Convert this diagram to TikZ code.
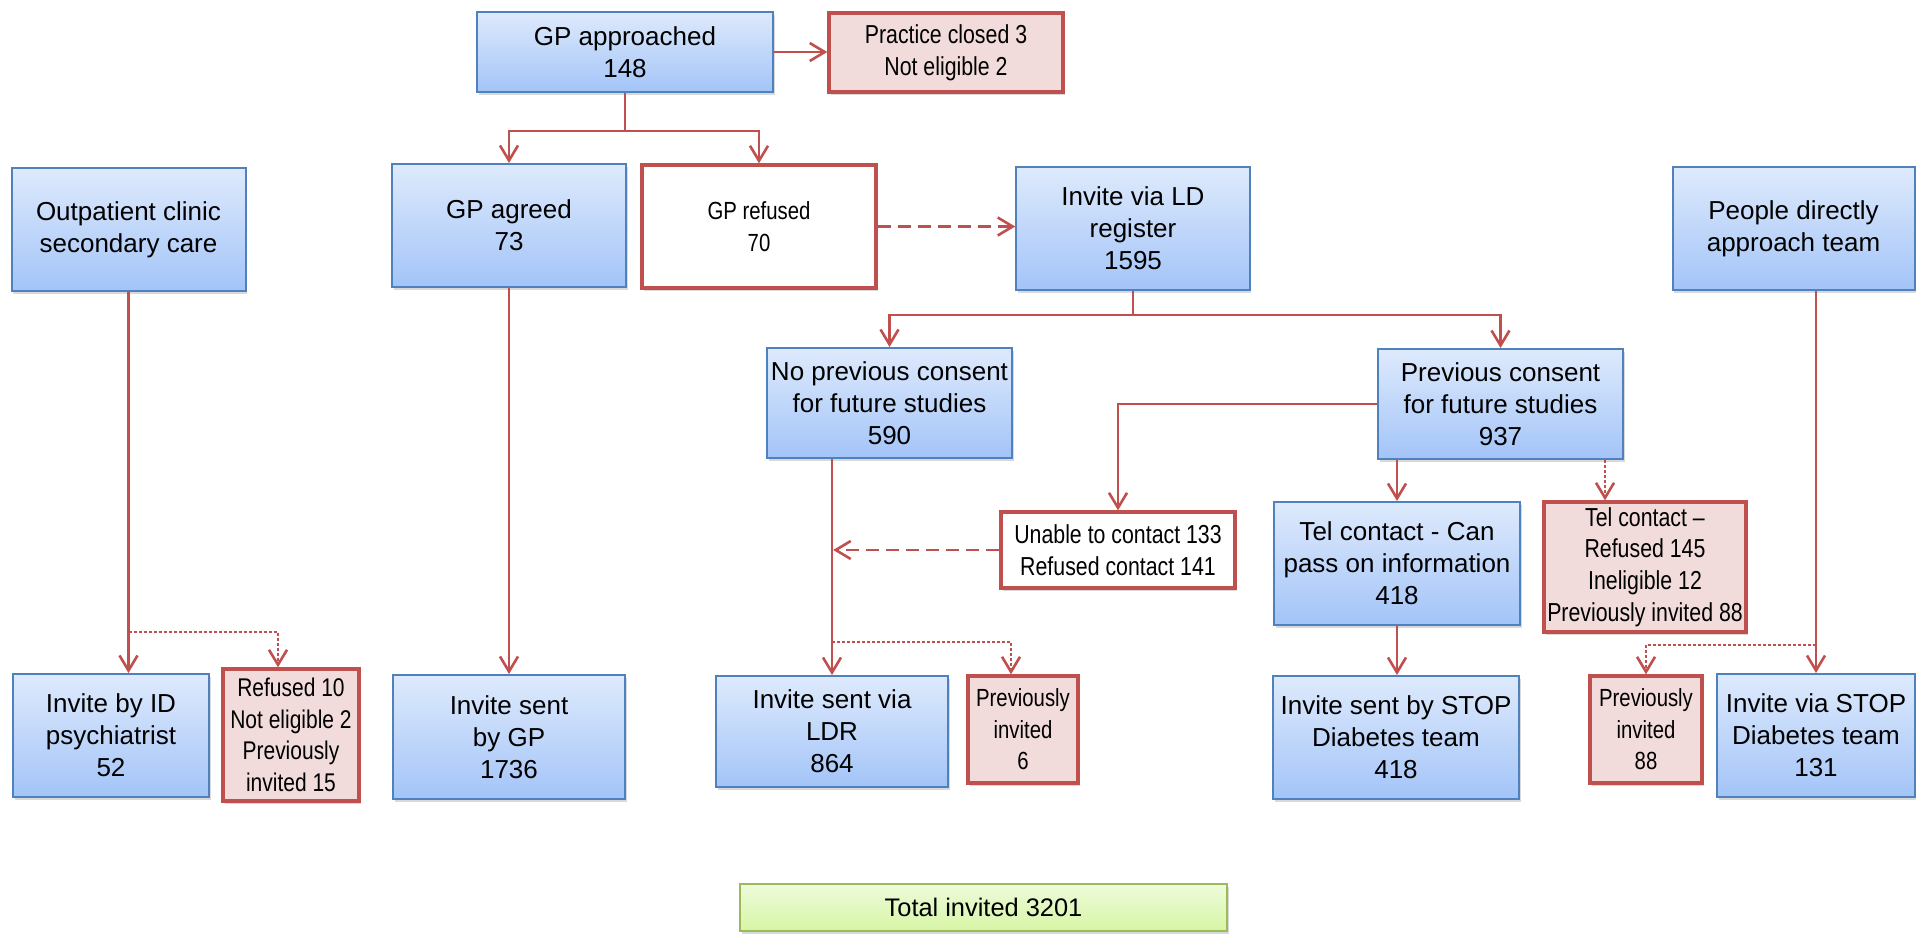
\documentclass[tikz,border=0pt]{standalone}
\usepackage{fontspec}
\setmainfont{Liberation Sans}
\newfontfamily\narrowfont[FakeStretch=0.82]{Liberation Sans}
\usetikzlibrary{arrows.meta,shadows,calc}

\definecolor{boxblue}{RGB}{79,129,189}
\definecolor{bluetop}{RGB}{222,234,252}
\definecolor{bluebot}{RGB}{163,196,248}
\definecolor{linered}{RGB}{192,80,77}
\definecolor{pinkfill}{RGB}{242,220,219}
\definecolor{greentop}{RGB}{238,251,220}
\definecolor{greenbot}{RGB}{214,245,164}
\definecolor{boxgreen}{RGB}{155,187,89}

\tikzset{
  base/.style={rectangle, inner sep=0pt, align=center,
    font=\fontsize{13}{16}\selectfont},
  softshadow/.style={drop shadow={opacity=0.3, shadow xshift=0.8pt, shadow yshift=-1.6pt}},
  bluebox/.style={base, draw=boxblue, line width=1pt,
    top color=bluetop, bottom color=bluebot, softshadow},
  redbox/.style={base, draw=linered, line width=1.7pt, fill=pinkfill, softshadow},
  whitebox/.style={base, draw=linered, line width=1.7pt, fill=white, softshadow},
  greenbox/.style={base, draw=boxgreen, line width=1pt,
    top color=greentop, bottom color=greenbot, softshadow},
  narrowtext/.style={font={\narrowfont\fontsize{#1}{15.8}\selectfont}},
  link/.style={draw=linered, line width=1.3pt},
  arrowed/.style={-{Straight Barb[length=7.5pt,width=9pt]}},
  dashlink/.style={link, dash pattern=on 6.5pt off 3.5pt},
  dotlink/.style={link, dash pattern=on 1.5pt off 1pt},
}

\begin{document}
\begin{tikzpicture}[x=0.5pt, y=-0.5pt]
\useasboundingbox (0,0) rectangle (1916,933);

% top level
\node[bluebox, minimum width=148pt, minimum height=40pt] (ga) at (625,52) {GP approached\\148};
\node[redbox, narrowtext=13, minimum width=117pt, minimum height=39.5pt] (pc) at (946,52.5) {Practice closed 3\\Not eligible 2};

% second row
\node[bluebox, minimum width=117pt, minimum height=61.5pt] (oc) at (128.5,229.5) {Outpatient clinic\\secondary care};
\node[bluebox, minimum width=117pt, minimum height=61.5pt] (gag) at (509,225.5) {GP agreed\\73};
\node[whitebox, narrowtext=12.4, minimum width=117pt, minimum height=61.5pt] (gr) at (759,226.5) {GP refused\\70};
\node[bluebox, minimum width=116.75pt, minimum height=61.5pt] (ld) at (1133,228.5) {Invite via LD\\register\\1595};
\node[bluebox, minimum width=121pt, minimum height=61.5pt] (pd) at (1793.5,228.5) {People directly\\approach team};

% consent split
\node[bluebox, minimum width=122.5pt, minimum height=55pt] (np) at (889.5,403) {No previous consent\\for future studies\\590};
\node[bluebox, minimum width=122.5pt, minimum height=55pt] (pcs) at (1500.5,404) {Previous consent\\for future studies\\937};

% telephone contact
\node[whitebox, narrowtext=13, minimum width=117pt, minimum height=38pt] (un) at (1118,550) {Unable to contact 133\\Refused contact 141};
\node[bluebox, minimum width=123pt, minimum height=61.5pt] (tc) at (1397,563.5) {Tel contact - Can\\pass on information\\418};
\node[redbox, narrowtext=13, minimum width=101pt, minimum height=65pt] (tr) at (1645,567) {Tel contact –\\Refused 145\\Ineligible 12\\Previously invited 88};

% invitations
\node[bluebox, minimum width=98pt, minimum height=61.5pt] (ib) at (111,735.5) {Invite by ID\\psychiatrist\\52};
\node[redbox, narrowtext=12.8, minimum width=68pt, minimum height=66pt] (rf) at (291,735) {Refused 10\\Not eligible 2\\Previously\\invited 15};
\node[bluebox, minimum width=116pt, minimum height=62pt] (ig) at (509,737) {Invite sent\\by GP\\1736};
\node[bluebox, minimum width=116pt, minimum height=55.5pt] (il) at (832,731.5) {Invite sent via\\LDR\\864};
\node[redbox, narrowtext=12.4, minimum width=55pt, minimum height=53.5pt] (p6) at (1023,729.5) {Previously\\invited\\6};
\node[bluebox, minimum width=123pt, minimum height=61.5pt] (is) at (1396,737.5) {Invite sent by STOP\\Diabetes team\\418};
\node[redbox, narrowtext=12.4, minimum width=56pt, minimum height=53.5pt] (p88) at (1646,729.5) {Previously\\invited\\88};
\node[bluebox, minimum width=99pt, minimum height=61.5pt] (iv) at (1816,735.5) {Invite via STOP\\Diabetes team\\131};

% total
\node[greenbox, font=\fontsize{12.7}{15}\selectfont, minimum width=243.5pt, minimum height=23.5pt] (tot) at (983.5,907.5) {Total invited 3201};

% junction points
\coordinate (gaj) at (625,131);
\coordinate (ldj) at (1133,315);
\coordinate (ocj) at (128.5,632);
\coordinate (ilj) at (832,642);
\coordinate (ivj) at (1816,645);

% connectors
\draw[link, arrowed] (ga.east) -- (pc.west |- ga.east);
\draw[link] (ga.south) -- (gaj);
\draw[link, arrowed] (gaj) -| (gag.north);
\draw[link, arrowed] (gaj) -| (gr.north);
\draw[dashlink, arrowed] (gr.east) -- (gr.east -| ld.west);

\draw[link] (ld.south) -- (ldj);
\draw[link, arrowed] (ldj) -| (np.north);
\draw[link, arrowed] (ldj) -| (pcs.north);

\draw[link, arrowed] (pcs.west) -| (un.north);
\draw[link, arrowed] (il.north |- np.south) -- (il.north);
\draw[dashlink, arrowed, shorten >=0.6pt] (un.west) -- (un.west -| il.north);
\draw[dotlink, arrowed] (ilj) -| ($(p6.north)+(-12,0)$);

\draw[link, arrowed] (tc.north |- pcs.south) -- (tc.north);
\draw[dotlink, arrowed] ($(tr.north |- pcs.south)+(-40,0)$) -- ($(tr.north)+(-40,0)$);
\draw[link, arrowed] (tc.south) -- (tc.south |- is.north);

\draw[link, arrowed] (oc.south) -- (oc.south |- ib.north);
\draw[dotlink, arrowed] (ocj) -| ($(rf.north)+(-13,0)$);

\draw[link, arrowed] (gag.south) -- (ig.north);

\draw[link, arrowed] (iv.north |- pd.south) -- (iv.north);
\draw[dotlink, arrowed] (ivj) -| (p88.north);
\end{tikzpicture}
\end{document}
